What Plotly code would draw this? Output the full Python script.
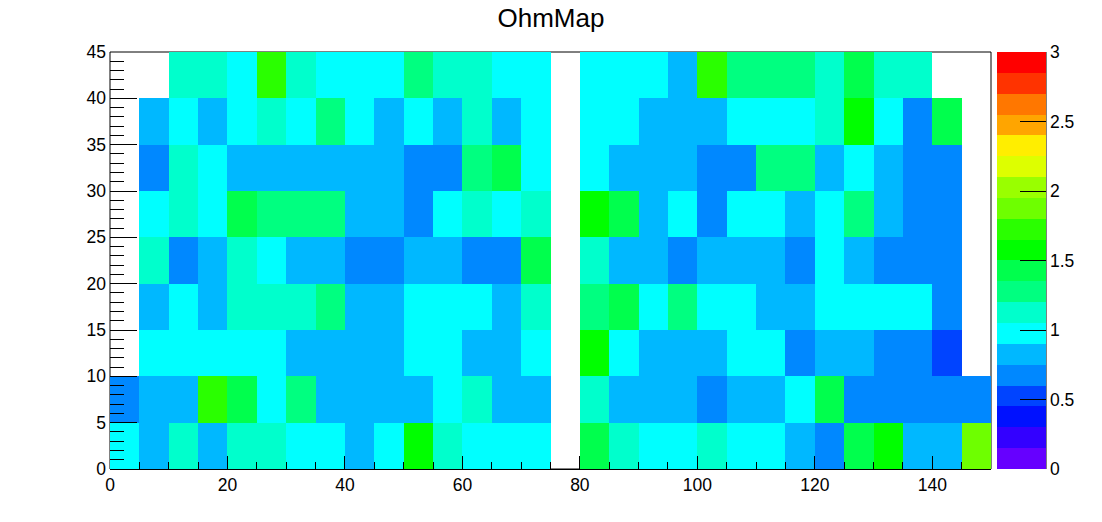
import plotly.graph_objects as go

title = "OhmMap"
x_centers = [2.5 + 5 * i for i in range(30)]
y_centers = [2.5, 7.5, 12.5, 17.5, 22.5, 27.5, 32.5, 37.5, 42.5]

N = None
row_00_05 = [0.98,0.82,1.12,0.82,1.12,1.12,0.98,0.98,0.82,0.98,1.58,1.12,0.98,0.98,0.98,N,1.42,1.12,0.98,0.98,1.12,0.98,0.98,0.82,0.68,1.42,1.58,0.82,0.82,1.88]
row_05_10 = [0.68,0.82,0.82,1.72,1.42,0.98,1.28,0.82,0.82,0.82,0.82,0.98,1.12,0.82,0.82,N,1.12,0.82,0.82,0.82,0.68,0.82,0.82,0.98,1.42,0.68,0.68,0.68,0.68,0.68]
row_10_15 = [N,0.98,0.98,0.98,0.98,0.98,0.82,0.82,0.82,0.82,0.98,0.98,0.82,0.82,0.98,N,1.58,0.98,0.82,0.82,0.82,0.98,0.98,0.68,0.82,0.82,0.68,0.68,0.52,N]
row_15_20 = [N,0.82,0.98,0.82,1.12,1.12,1.12,1.28,0.82,0.82,0.98,0.98,0.98,0.82,1.12,N,1.28,1.42,0.98,1.28,0.98,0.98,0.82,0.82,0.98,0.98,0.98,0.98,0.68,N]
row_20_25 = [N,1.12,0.68,0.82,1.12,0.98,0.82,0.82,0.68,0.68,0.82,0.82,0.68,0.68,1.42,N,1.12,0.82,0.82,0.68,0.82,0.82,0.82,0.68,0.98,0.82,0.68,0.68,0.68,N]
row_25_30 = [N,0.98,1.12,0.98,1.42,1.28,1.28,1.28,0.82,0.82,0.68,0.98,1.12,0.98,1.12,N,1.58,1.42,0.82,0.98,0.68,0.98,0.98,0.82,0.98,1.28,0.82,0.68,0.68,N]
row_30_35 = [N,0.68,1.12,0.98,0.82,0.82,0.82,0.82,0.82,0.82,0.68,0.68,1.28,1.42,0.98,N,0.98,0.82,0.82,0.82,0.68,0.68,1.28,1.28,0.82,0.98,0.82,0.68,0.68,N]
row_35_40 = [N,0.82,0.98,0.82,0.98,1.12,0.98,1.28,0.98,0.82,0.98,0.82,1.12,0.82,0.98,N,0.98,0.98,0.82,0.82,0.82,0.98,0.98,0.98,1.12,1.58,0.98,0.68,1.42,N]
row_40_45 = [N,N,1.12,1.12,0.98,1.72,1.12,0.98,0.98,0.98,1.28,1.12,1.12,0.98,0.98,N,0.98,0.98,0.98,0.82,1.72,1.28,1.28,1.28,1.12,1.42,1.12,1.12,N,N]

palette = ["#6600ff","#3300ff","#0011ff","#0044ff","#0088ff","#00b8ff","#00ffff","#00ffcc","#00ff80","#00ff4d",
           "#00ff00","#2aff00","#6eff00","#99ff00","#ddff00","#ffee00","#ffa500","#ff7700","#ff3300","#ff0000"]

colorscale = []
for i, c in enumerate(palette):
    colorscale.append([i / 20, c])
    colorscale.append([(i + 1) / 20, c])

z = [row_00_05, row_05_10, row_10_15, row_15_20, row_20_25, row_25_30, row_30_35, row_35_40, row_40_45]

L, R, T, B = 110, 991, 52, 469
W, H = 1102, 522
pw = R - L
font_family = "Liberation Sans, Arial, sans-serif"
tick_size = 17.5

fig = go.Figure(go.Heatmap(
    x=x_centers, y=y_centers, z=z, zmin=0, zmax=3,
    colorscale=colorscale, hoverongaps=False,
    colorbar=dict(
        x=(997 - L) / pw, xanchor="left", xref="paper",
        y=0, yanchor="bottom", yref="paper", len=1, lenmode="fraction",
        thickness=49, thicknessmode="pixels", xpad=0, ypad=0,
        outlinewidth=0, borderwidth=0,
        tick0=0, dtick=0.5, ticks="inside", ticklen=26, tickwidth=1, tickcolor="black",
        ticklabelposition="outside",
        tickfont=dict(family=font_family, size=tick_size, color="black"),
    ),
))

fig.update_layout(
    width=W, height=H, autosize=False,
    margin=dict(l=L, r=W - R, t=T, b=H - B, pad=0, autoexpand=False),
    paper_bgcolor="white", plot_bgcolor="white",
    font=dict(family=font_family, color="black"),
    title=dict(text=title, x=0.5, xanchor="center", xref="container",
               y=1 - 18 / H, yanchor="middle", yref="container",
               font=dict(family=font_family, size=26, color="black")),
    xaxis=dict(range=[0, 150], tick0=0, dtick=20, ticks="inside", ticklen=13, tickwidth=1,
               tickcolor="black", showgrid=False, zeroline=False, showline=True,
               linecolor="black", linewidth=1, ticklabelstandoff=0,
               tickfont=dict(family=font_family, size=tick_size, color="black"),
               minor=dict(ticks="inside", ticklen=7, tick0=0, dtick=5, tickwidth=1,
                          tickcolor="black", showgrid=False)),
    yaxis=dict(range=[0, 45], tick0=0, dtick=5, ticks="inside", ticklen=27, tickwidth=1,
               tickcolor="black", showgrid=False, zeroline=False, showline=False,
               ticklabelstandoff=3,
               tickfont=dict(family=font_family, size=tick_size, color="black"),
               minor=dict(ticks="inside", ticklen=14, tick0=0, dtick=1, tickwidth=1,
                          tickcolor="black", showgrid=False)),
    shapes=[
        dict(type="rect", xref="paper", yref="paper", x0=0, x1=1, y0=0, y1=1,
             line=dict(color="black", width=1), layer="below"),
        dict(type="line", xref="paper", yref="paper", x0=(1046 - L) / pw, x1=(1046 - L) / pw,
             y0=0, y1=1, line=dict(color="black", width=1), layer="above"),
    ],
)

fig.write_html("out.html", config={"displayModeBar": False},
               post_script="document.body.style.margin='0';document.documentElement.style.overflow='hidden';")
